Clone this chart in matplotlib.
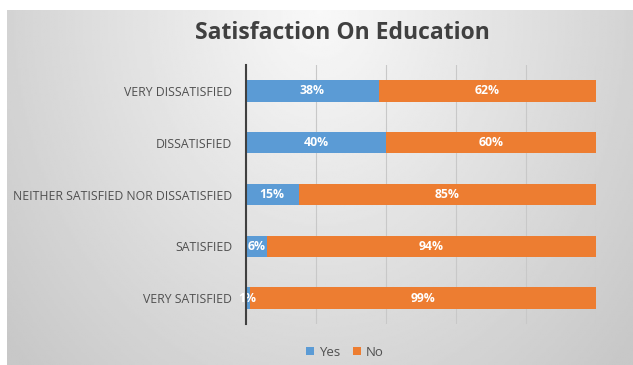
import numpy as np
import matplotlib.pyplot as plt

# Data (percent)
categories = ['VERY SATISFIED', 'SATISFIED', 'NEITHER SATISFIED NOR DISSATISFIED',
              'DISSATISFIED', 'VERY DISSATISFIED']
yes_pct = [1, 6, 15, 40, 38]
no_pct = [99, 94, 85, 60, 62]

blue = '#5B9BD5'
orange = '#ED7D31'
text_gray = '#505050'

plt.rcParams['font.family'] = ['Open Sans', 'DejaVu Sans']

fig = plt.figure(figsize=(6.33, 3.65), dpi=100)
fig.patch.set_facecolor('white')

# Gray gradient background panel
bg = fig.add_axes([7 / 633, 0, 1 - 7 / 633, 1 - 10 / 365])
gx, gy = np.meshgrid(np.linspace(-1, 1, 300), np.linspace(0, 1, 200))
r = np.sqrt((gx / 1.0) ** 2 + (gy / 1.1) ** 2)
shade = 0.975 - 0.19 * np.clip(r, 0, 1.3) / 1.3
bg.imshow(shade, cmap='gray', vmin=0, vmax=1, aspect='auto', extent=[0, 1, 0, 1], origin='upper')
bg.axis('off')

ax = fig.add_axes([246 / 633, 1 - 324 / 365, 350 / 633, (324 - 65) / 365])
ax.patch.set_alpha(0)

y = np.arange(len(categories))
h = 0.41
ax.barh(y, yes_pct, height=h, color=blue, label='Yes', zorder=3)
ax.barh(y, no_pct, left=yes_pct, height=h, color=orange, label='No', zorder=3)

for i in range(len(categories)):
    ax.text(yes_pct[i] / 2, y[i], f'{yes_pct[i]}%', ha='center', va='center',
            color='white', fontsize=8.8, fontweight='bold', zorder=4)
    ax.text(yes_pct[i] + no_pct[i] / 2, y[i], f'{no_pct[i]}%', ha='center', va='center',
            color='white', fontsize=8.8, fontweight='bold', zorder=4)

ax.set_xlim(0, 100)
ax.set_ylim(-0.5, len(categories) - 0.5)
ax.set_xticks([0, 20, 40, 60, 80, 100])
ax.set_xticklabels([])
ax.tick_params(axis='x', length=0)
ax.grid(axis='x', color='#c8c8c8', linewidth=0.8, zorder=0)
ax.set_yticks(y)
ax.set_yticklabels(categories, fontsize=8.8, color=text_gray, fontweight='medium')
ax.tick_params(axis='y', length=0, pad=10)
for s in ['top', 'right', 'bottom']:
    ax.spines[s].set_visible(False)
ax.spines['left'].set_color('#404040')
ax.spines['left'].set_linewidth(1.5)
ax.spines['left'].set_zorder(5)

fig.text(342 / 633, 1 - 33 / 365, 'Satisfaction On Education', ha='center', va='center',
         fontsize=16.5, fontweight='bold', color='#404040')

leg = fig.legend(loc='center', bbox_to_anchor=(345 / 633, 1 - 352 / 365), ncol=2,
                 frameon=False, fontsize=9.5, handlelength=0.55, handleheight=0.55,
                 handletextpad=0.4, columnspacing=1.0)
for t in leg.get_texts():
    t.set_color(text_gray)

fig.savefig('out.png', dpi=100)
